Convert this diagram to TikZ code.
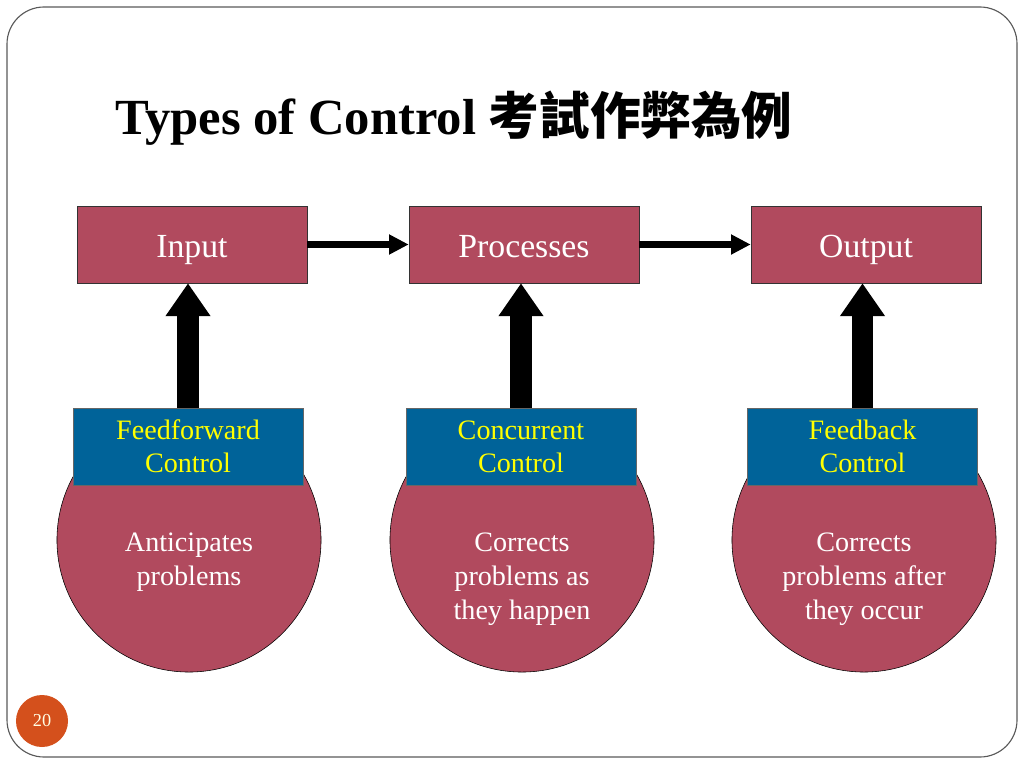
\documentclass[tikz,border=0pt]{standalone}
\usepackage{fontspec}
\setmainfont{Liberation Serif}
\newfontfamily\cjk{Noto Sans CJK TC}
\usetikzlibrary{arrows.meta,positioning}

\definecolor{boxred}{RGB}{177,74,94}
\definecolor{ctrlblue}{RGB}{0,99,153}
\definecolor{ctrlyellow}{RGB}{255,255,0}
\definecolor{pgorange}{RGB}{212,80,28}

\tikzset{
	stage/.style={draw=black!80, fill=boxred, text=white, minimum width=5.75cm, minimum height=1.925cm, inner sep=0pt, text height=18pt, text depth=0pt, font=\fontsize{24}{28}\selectfont},
	ctrl/.style={draw=black!60, fill=ctrlblue, text=ctrlyellow, minimum width=5.75cm, minimum height=1.925cm, inner sep=0pt, align=center, text height=40pt, text depth=2.4pt, font=\fontsize{20}{24}\selectfont},
	blob/.style={circle, draw=black, fill=boxred, minimum size=6.6cm, inner sep=0pt},
	blobtext/.style={text=white, align=center, anchor=north, inner sep=0pt, font=\fontsize{20}{24}\selectfont},
	flow/.style={line width=4.3pt, -{Triangle[length=14pt,width=13.5pt]}},
	push/.style={line width=15.6pt, -{Triangle[length=23.4pt,width=30.5pt]}}
}

\begin{document}
\begin{tikzpicture}[x=0.025cm, y=-0.025cm]
			\useasboundingbox (0,0) rectangle (1024,768);
			\draw[gray!70!black, line width=0.8pt, rounded corners=0.925cm] (7,7) rectangle (1017,757);

			\node[anchor=base west, inner sep=0pt, font=\bfseries\fontsize{36}{40}\selectfont] (title) at (115,135){Types of Control {\cjk 考試作弊為例}};

			% top row
			\node[stage] (in) at (192,244.5){Input};
			\node[stage] (proc) at (524,244.5){Processes};
			\node[stage] (out) at (866,244.5){Output};
				\draw[flow] (in.east) -- (proc.west);
				\draw[flow] (proc.east) -- (out.west);

			% circles
			\node[blob] (c1) at (189,540){};
			\node[blob] (c2) at (522,540){};
			\node[blob] (c3) at (864,540){};
				\node[blobtext] (t1) at (189,533){Anticipates\\problems};
				\node[blobtext] (t2) at (522,533){Corrects\\problems as\\they happen};
				\node[blobtext] (t3) at (864,533){Corrects\\problems after\\they occur};

			% control boxes
			\node[ctrl] (ff) at (188,446.5){Feedforward\\Control};
			\node[ctrl] (cc) at (521,446.5){Concurrent\\Control};
			\node[ctrl] (fb) at (862.5,446.5){Feedback\\Control};
				\draw[push] (ff.north) -- (ff.north |- in.south);
				\draw[push] (cc.north) -- (cc.north |- proc.south);
				\draw[push] (fb.north) -- (fb.north |- out.south);

			\node[circle, fill=pgorange, text=white!90!yellow, minimum size=1.3cm, inner sep=0pt, font=\fontsize{13}{15}\selectfont] (pg) at (42,721){20};
		\end{tikzpicture}
\end{document}
